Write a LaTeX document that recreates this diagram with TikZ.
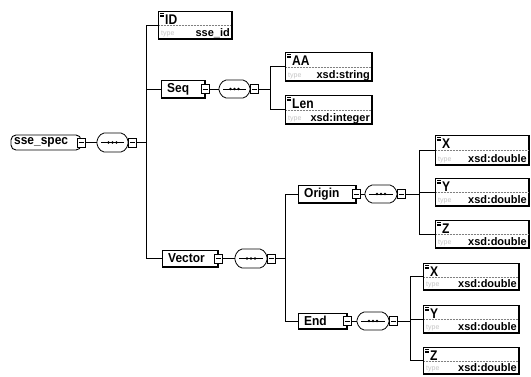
\documentclass[tikz,border=0pt]{standalone}
\usepackage{fontspec}
\setmainfont{Liberation Sans}
\newfontfamily\namefont[FakeStretch=0.92]{Liberation Sans}
\newfontfamily\leaffont[FakeStretch=0.86]{Liberation Sans}
\usetikzlibrary{calc}
\tikzset{
  conn/.style={line width=0.8pt},
  elbox/.style={draw, line width=0.7pt, fill=white, inner sep=0pt, outer sep=0pt},
  compbox/.style={draw=none, inner sep=0pt, outer sep=0pt},
  compline/.style={draw, line width=0.8pt, fill=white, rounded corners=2pt},
  sqbox/.style={draw, line width=0.7pt, fill=white, inner sep=0pt, outer sep=0pt, minimum width=8pt, minimum height=9pt},
  namef/.style={font=\namefont\fontsize{13}{15}\selectfont\bfseries, inner sep=0pt},
  leafnamef/.style={font=\leaffont\fontsize{14}{16}\selectfont\bfseries, inner sep=0pt},
  typef/.style={font=\fontsize{11}{13}\selectfont\bfseries, inner sep=0pt},
  typelab/.style={font=\fontsize{7}{8}\selectfont, text=gray!45, inner sep=0pt}
}
% compositor: name, cx, cy, halfwidth, halfheight
\newcommand{\compo}[5]{%
  \node[compbox, minimum width={2*#4*1pt}, minimum height={2*#5*1pt}] (#1) at (#2,#3) {};
  \draw[compline] ($(#1.north west)+(5,0)$) -- ($(#1.north east)+(-5,0)$) -- ($(#1.north east)+(0,6)$) -- ($(#1.south east)+(0,-6)$) -- ($(#1.south east)+(-5,0)$) -- ($(#1.south west)+(5,0)$) -- ($(#1.south west)+(0,-6)$) -- ($(#1.north west)+(0,6)$) -- cycle;
  \draw[line width=0.8pt] ($(#1.west)+(4,0)$) -- ($(#1.east)+(-4,0)$);
  \fill ($(#1.center)+(-4,0)$) circle (1.4);
  \fill ($(#1.center)$) circle (1.4);
  \fill ($(#1.center)+(4,0)$) circle (1.4);
}
% minus square: name, cx, cy
\newcommand{\msq}[3]{%
  \node[sqbox] (#1) at (#2,#3) {};
  \draw[line width=0.6pt] ($(#1.west)+(1.5,0)$) -- ($(#1.east)+(-1.5,0)$);
}
% element with children: name, x0, y0, x1, y1, label
\newcommand{\elem}[6]{%
  \node[elbox, minimum width={(#4-#2)*1pt}, minimum height={(#5-#3)*1pt}] (#1) at ({(#2+#4)/2},{(#3+#5)/2}) {};
  \draw[line width=1.4pt] (#1.north east) -- (#1.south east) -- (#1.south west);
  \node[namef, anchor=west] (#1-t) at ($(#1.west)+(6,0)$) {#6};
}
% leaf element: name, x0, y0, x1, y1, label, type
\newcommand{\leaf}[7]{%
  \node[elbox, minimum width={(#4-#2)*1pt}, minimum height={(#5-#3)*1pt}] (#1) at ({(#2+#4)/2},{(#3+#5)/2}) {};
  \draw[line width=1.4pt] (#1.north east) -- (#1.south east) -- (#1.south west);
  \draw[densely dotted, gray, line width=0.5pt] ($(#1.north west)+(1,{0.52*(#5-#3)})$) -- ($(#1.north east)+(-1,{0.52*(#5-#3)})$);
  \draw[line width=0.4pt] ($(#1.north west)+(2,2.5)$) -- ++(3.5,0) ($(#1.north west)+(2,4)$) -- ++(3.5,0) ($(#1.north west)+(2,5.5)$) -- ++(3.5,0);
  \node[leafnamef, anchor=base west] (#1-t) at ($(#1.north west)+(7,13)$) {#6};
  \node[typelab, anchor=base west] (#1-k) at ($(#1.south west)+(3,-3.5)$) {type};
  \node[typef, anchor=base east] (#1-y) at ($(#1.south east)+(-2,-3)$) {#7};
}
\begin{document}
\begin{tikzpicture}[x=1pt,y=-1pt]
\useasboundingbox[fill=white] (0,0) rectangle (531,376);

% root
\node[elbox, rounded corners=5pt, line width=0.9pt, minimum width=70pt, minimum height=15pt] (root) at (46,142.5) {};
\node[namef, anchor=west] (root-t) at (14,142.5) {sse\_spec};
\msq{rootsq}{81}{142.5}
\compo{c1}{112.5}{142.5}{15.5}{9.5}
\msq{c1sq}{132.5}{142.5}
\coordinate (b1) at (146,142.5);

% level 1
\leaf{ID}{158}{11}{232}{39}{ID}{sse\_id}
\elem{Seq}{161}{80}{205}{98}{Seq}
\msq{Seqsq}{205}{89}
\elem{Vector}{162}{250}{218}{267}{Vector}
\msq{Vecsq}{218}{258.5}

% Seq content
\compo{c2}{234.5}{89}{15.5}{9}
\msq{c2sq}{254.5}{89}
\coordinate (b2) at (270,89);
\leaf{AA}{285}{52}{372}{81}{AA}{xsd:string}
\leaf{Len}{285}{95}{372}{124}{Len}{xsd:integer}

% Vector content
\compo{c3}{251}{258.5}{16}{9.5}
\msq{c3sq}{271.5}{258.5}
\coordinate (b3) at (285,258.5);
\elem{Origin}{298}{185}{356}{203}{Origin}
\msq{Orisq}{356}{194}
\elem{End}{298}{313}{347}{329}{End}
\msq{Endsq}{347}{321}

% Origin content
\compo{c4}{381}{194}{16}{9}
\msq{c4sq}{401.5}{194}
\coordinate (b4) at (419,194);
\leaf{OX}{435}{135}{529}{165}{X}{xsd:double}
\leaf{OY}{435}{178}{529}{206}{Y}{xsd:double}
\leaf{OZ}{435}{220}{529}{248}{Z}{xsd:double}

% End content
\compo{c5}{373}{321}{16}{9}
\msq{c5sq}{393.5}{321}
\coordinate (b5) at (410,321);
\leaf{EX}{423}{263}{519}{290}{X}{xsd:double}
\leaf{EY}{423}{305}{519}{333}{Y}{xsd:double}
\leaf{EZ}{423}{347}{519}{374}{Z}{xsd:double}

% connectors
\draw[conn] (rootsq.east) -- (c1.west);
\draw[conn] (c1sq.east) -- (b1);
\draw[conn] (b1) |- (ID.west);
\draw[conn] (b1) |- (Seq.west);
\draw[conn] (b1) |- (Vector.west);

\draw[conn] (Seqsq.east) -- (c2.west);
\draw[conn] (c2sq.east) -- (b2);
\draw[conn] (b2) |- (AA.west);
\draw[conn] (b2) |- (Len.west);

\draw[conn] (Vecsq.east) -- (c3.west);
\draw[conn] (c3sq.east) -- (b3);
\draw[conn] (b3) |- (Origin.west);
\draw[conn] (b3) |- (End.west);

\draw[conn] (Orisq.east) -- (c4.west);
\draw[conn] (c4sq.east) -- (b4);
\draw[conn] (b4) |- (OX.west);
\draw[conn] (b4) |- (OY.west);
\draw[conn] (b4) |- (OZ.west);

\draw[conn] (Endsq.east) -- (c5.west);
\draw[conn] (c5sq.east) -- (b5);
\draw[conn] (b5) |- (EX.west);
\draw[conn] (b5) |- (EY.west);
\draw[conn] (b5) |- (EZ.west);
\end{tikzpicture}
\end{document}
